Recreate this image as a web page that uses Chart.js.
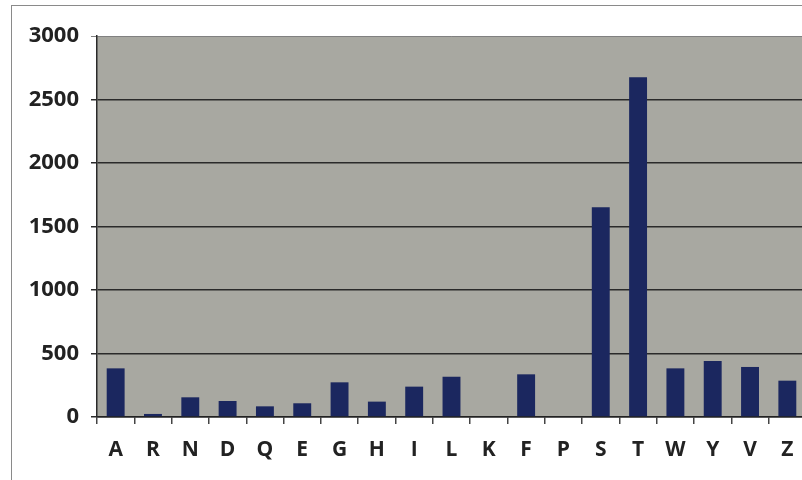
<!DOCTYPE html>
<html>
<head>
<meta charset="utf-8">
<script src="https://cdn.jsdelivr.net/npm/chart.js@4/dist/chart.umd.min.js"></script>
<style>
  html, body { margin: 0; padding: 0; background: #fff; overflow: hidden; width: 802px; height: 480px; }
  #frame { position: absolute; left: 11px; top: 5px; width: 830px; height: 500px; border: 1px solid #8a8a8a; }
  #wrap { position: absolute; left: 0; top: 0; width: 830px; height: 500px; }
</style>
</head>
<body>
<div id="frame"><div id="wrap"><canvas id="c"></canvas></div></div>
<script>
// Amino-acid codes along the category axis
const categories = ['A','R','N','D','Q','E','G','H','I','L','K','F','P','S','T','W','Y','V','Z'];
// Count for each code
const counts = [383, 24, 155, 126, 84, 108, 273, 121, 239, 317, 0, 336, 0, 1652, 2675, 383, 441, 394, 286];
// Value axis ticks
const yTicks = [0, 500, 1000, 1500, 2000, 2500, 3000];

const plotBackground = {
  id: 'plotBackground',
  beforeDraw(chart) {
    const { ctx, chartArea: a } = chart;
    ctx.save();
    ctx.fillStyle = '#a8a8a1';
    ctx.fillRect(a.left, a.top, a.right - a.left, a.bottom - a.top);
    ctx.restore();
  }
};

const yFont = { family: '"Open Sans", sans-serif', size: 22, weight: 'bold' };
const xFont = { family: '"Open Sans", sans-serif', size: 21, weight: 'bold' };

new Chart(document.getElementById('c'), {
  type: 'bar',
  data: {
    labels: categories,
    datasets: [{
      data: counts,
      backgroundColor: '#1b275f',
      borderWidth: 0,
      categoryPercentage: 1.0,
      barPercentage: 0.48
    }]
  },
  options: {
    responsive: true,
    maintainAspectRatio: false,
    animation: false,
    layout: { padding: { left: 0, top: 30, right: 36, bottom: 10 } },
    plugins: { legend: { display: false }, tooltip: { enabled: false } },
    scales: {
      x: {
        offset: true,
        grid: { offset: true, drawOnChartArea: false, tickLength: 7, color: '#444', lineWidth: 1.5 },
        border: { color: '#222', width: 1.5 },
        ticks: { color: '#222', font: xFont, padding: 13, maxRotation: 0 },
        afterFit(s) { s.height = 79; }
      },
      y: {
        min: 0,
        max: 3000,
        afterBuildTicks(s) { s.ticks = yTicks.map(v => ({ value: v })); },
        grid: {
          tickLength: 6,
          color: c => (c.tick && c.tick.value === 3000) ? '#808080' : '#2a2a2a',
          lineWidth: c => (c.tick && c.tick.value === 3000) ? 1 : 1.5
        },
        border: { color: '#2a2a2a', width: 1.5 },
        ticks: { color: '#222', font: yFont, padding: 12, callback: v => String(v) },
        afterFit(s) { s.width = 85; }
      }
    }
  },
  plugins: [plotBackground]
});
</script>
</body>
</html>
